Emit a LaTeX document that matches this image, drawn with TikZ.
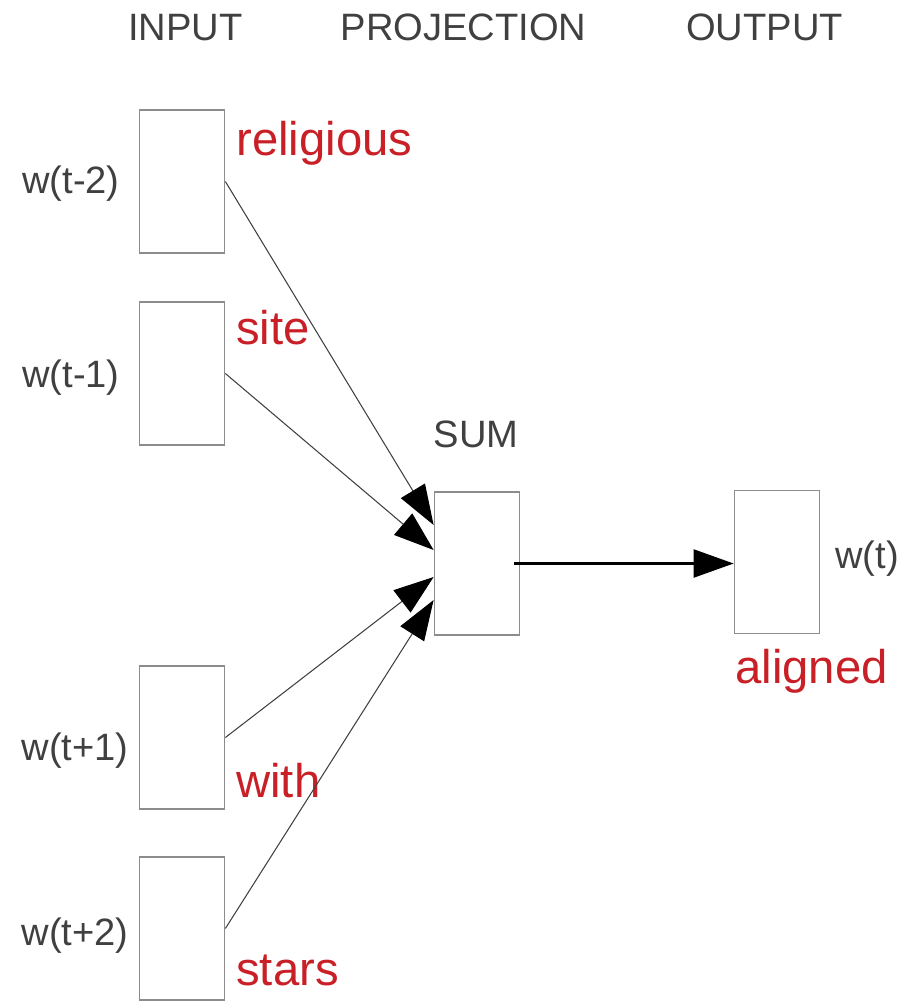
\documentclass[tikz,border=0pt]{standalone}
\usepackage{fontspec}
\setmainfont{Liberation Sans}
\usepackage{xcolor}
\usetikzlibrary{arrows.meta, positioning}
\definecolor{labelgray}{RGB}{64,64,64}
\definecolor{boxgray}{RGB}{140,140,140}
\definecolor{wordred}{RGB}{200,32,38}
\tikzset{
    vecbox/.style={draw=boxgray, line width=1pt, fill=white, minimum width=1.7cm, minimum height=2.86cm, inner sep=0pt},
    title/.style={text=labelgray, inner sep=0pt, font=\fontsize{21.7}{26}\selectfont},
    word/.style={text=wordred, inner sep=0pt, font=\fontsize{26.9}{32}\selectfont},
    feed/.style={draw=black!75, line width=0.6pt, -{Triangle[length=0.8cm, width=0.56cm, color=black]}},
}
\begin{document}
\begin{tikzpicture}
    \useasboundingbox (0,0) rectangle (18.06,-20.02);
    % column headings
    \node[title, anchor=base] (hin) at (3.71,-0.80) {INPUT};
    \node[title, anchor=base] (hproj) at (9.27,-0.80) {PROJECTION};
    \node[title, anchor=base] (hout) at (15.29,-0.80) {OUTPUT};
    % boxes
    \node[vecbox] (in1) at (3.64,-3.63) {};
    \node[vecbox] (in2) at (3.64,-7.47) {};
    \node[vecbox] (in3) at (3.64,-14.75) {};
    \node[vecbox] (in4) at (3.64,-18.57) {};
    \node[vecbox] (sum) at (9.54,-11.27) {};
    \node[vecbox] (out) at (15.54,-11.24) {};
    \node[title, anchor=base] (sumlbl) at (9.52,-8.94) {SUM};
    % context words
    \node[title, anchor=base east] (w1) at (2.40,-3.86) {w(t-2)};
    \node[title, anchor=base east] (w2) at (2.40,-7.74) {w(t-1)};
    \node[title, anchor=base east] (w3) at (2.58,-15.20) {w(t+1)};
    \node[title, anchor=base east] (w4) at (2.58,-18.90) {w(t+2)};
    \node[title, anchor=base west] (wt) at (16.70,-11.36) {w(t)};
    % example sentence
    \node[word, anchor=base west] (r1) at (4.72,-3.10) {religious};
    \node[word, anchor=base west] (r2) at (4.72,-6.88) {site};
    \node[word, anchor=base west] (r3) at (4.72,-15.94) {with};
    \node[word, anchor=base west] (r4) at (4.72,-19.70) {stars};
    \node[word, anchor=base west] (r5) at (14.70,-13.66) {aligned};
    % connections
    \draw[feed] (in1.east) -- ([yshift=0.77cm]sum.west);
    \draw[feed] (in2.east) -- ([yshift=0.27cm]sum.west);
    \draw[feed] (in3.east) -- ([yshift=-0.27cm]sum.west);
    \draw[feed] (in4.east) -- ([yshift=-0.73cm]sum.west);
    \draw[feed, draw=black, line width=1.3pt] ([xshift=-0.12cm]sum.east) -- (sum.east -| out.west);
\end{tikzpicture}
\end{document}
